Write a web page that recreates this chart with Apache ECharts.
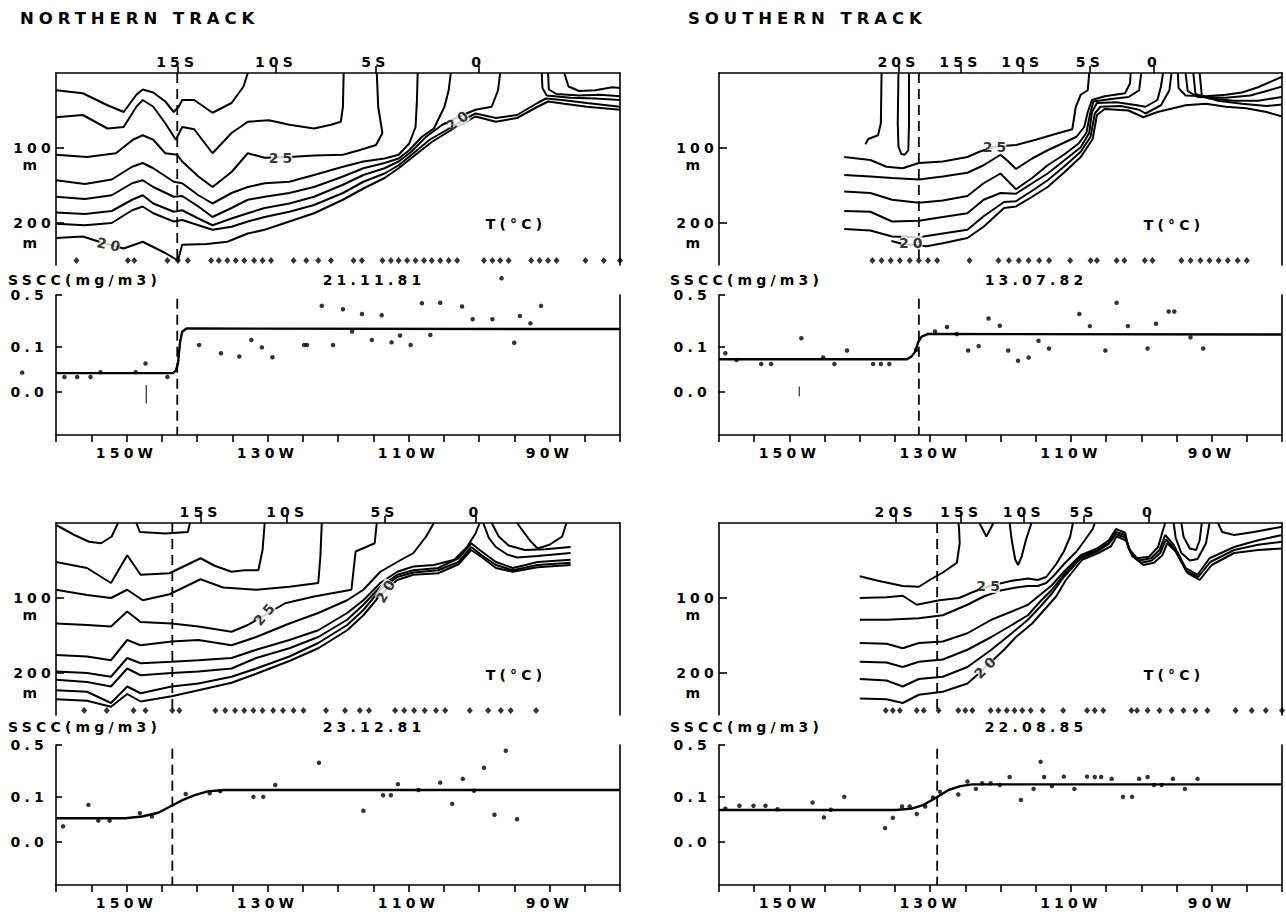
<!DOCTYPE html>
<html><head><meta charset="utf-8">
<script src="https://cdn.jsdelivr.net/npm/echarts@6/dist/echarts.min.js"></script>
<style>
html,body{margin:0;padding:0;background:#fff}
#chart{width:1286px;height:915px}
#chart svg text{letter-spacing:0.3em}
</style></head><body><div id="chart"></div>
<script>
// ---------- shared axis values ----------
const lonMin = 80, lonMax = 160, lonTickInterval = 5;
const lonLabelValues = [150, 130, 110, 90];
const depthMax = 256;
const depthTickValues = [100, 200];
const depthUnitDepths = [122, 226];
const stationDepth = 250;
const ssccTickValues = [0.5, 0.1, 0.0];
const ssccTickLabels = ['0.5', '0.1', '0.0'];
const ssccAxisMin = -0.0317, ssccAxisMax = 0.5;
const ssccDashTop = 0.45;
const trackTitles = ['NORTHERN TRACK', 'SOUTHERN TRACK'];

// ---------- panel 1 : northern track 21.11.81 ----------
const n1Date = '21.11.81';
const n1LatLon = [142.8, 128.8, 114.7, 100.1];
const n1LatName = ['15S', '10S', '5S', '0'];
const n1Front = 142.8;
const n1Isotherms = [
 [[160,23],[156.2,27],[152.7,43],[150.4,52],[148.6,29],[147.7,22],[146.2,26],[144.5,38],[143.3,52],[142.6,45],[142.1,36],[140.4,36],[137.8,53],[135.1,40],[133.4,18],[132.8,0]],
 [[160,59],[156.2,56],[152.7,74],[150.4,72],[148.6,45],[147.7,36],[146.2,45],[144.5,67],[143.0,89],[142.1,72],[140.4,75],[137.8,107],[135.1,80],[132.8,65],[129.8,63],[126.9,69],[123.4,74],[121,69],[119.6,65],[119.3,45],[119.2,0]],
 [[160,109],[155.6,112],[151.5,107],[149.1,89],[147.7,83],[146.2,89],[144.5,107],[142.8,109],[142.1,118],[139.8,138],[137.8,152],[135.1,132],[132.8,107],[130.4,113],[126.9,112],[123.4,110],[119.3,109],[117.0,103],[114.6,96],[113.7,80],[114.3,45],[114.5,0]],
 [[160,143],[155.9,148],[152.1,142],[149.2,125],[147.7,120],[146.2,127],[143.3,145],[142.1,147],[139.8,163],[137.8,174],[135.1,160],[132.8,152],[130.4,147],[126.9,145],[123.4,136],[119.3,125],[116.4,118],[113.4,114],[111.4,109],[109.9,94],[109.0,72],[108.8,36],[108.7,0]],
 [[160,165],[155.9,168],[152.1,163],[149.2,147],[147.7,143],[146.2,152],[143.3,165],[142.1,164],[139.8,178],[137.8,192],[135.1,180],[132.8,169],[130.4,165],[126.9,160],[123.4,152],[119.3,138],[116.4,127],[113.4,120],[111.4,114],[109.9,103],[108.1,85],[106.4,74],[104.9,45],[104.3,23],[104.0,0]],
 [[160,186],[155.9,188],[152.1,184],[149.2,169],[147.7,163],[146.2,174],[143.3,185],[142.1,183],[139.8,194],[137.8,203],[135.1,194],[132.8,187],[130.4,180],[126.9,174],[123.4,165],[119.3,149],[116.4,136],[113.4,127],[111.4,118],[109.6,105],[107.5,85],[105.2,69],[102.8,58],[100.5,49],[98.2,45],[97.3,23],[97.0,0]],
 [[160,201],[155.9,203],[152.1,200],[149.2,183],[147.7,178],[146.2,187],[143.3,198],[142.1,196],[139.8,203],[137.8,209],[135.1,205],[132.8,198],[130.4,192],[126.9,185],[123.4,176],[119.3,160],[116.4,145],[113.4,134],[111.4,123],[109.3,107],[107.0,89],[104.6,76],[102.3,63],[100.5,54],[97.6,60],[94.6,56],[91.7,40],[90.5,34],[88.2,36],[84.7,40],[80,45]],
 [[160,220],[156.2,218],[153.5,226],[150.4,234],[147.7,225],[144.5,240],[142.7,250],[142.1,229],[138.6,228],[135.7,225],[132.8,214],[130.4,209],[126.9,198],[123.4,187],[119.3,169],[116.4,154],[113.4,140],[111.4,127],[109.0,109],[106.7,92],[104.3,78],[102.0,66],[100.5,58],[97.6,65],[94.6,60],[91.7,45],[90.2,38],[87.9,41],[84.7,45],[80,49]],
 [[91.1,0],[91.0,20],[90.4,30],[87.0,33],[83.5,34],[80,36]],
 [[90.2,0],[90.1,22],[89.0,28],[85.8,30],[82.9,29],[80,31]],
 [[87.9,0],[87.3,18],[85.8,24],[83.5,23],[81.1,19],[80,20]]
];
const n1IsoLabels = [[128.0,113,'25',0],[152.4,229,'20',-12],[103.0,63,'20',35]];
const n1Stations = [157.1,149.8,148.9,144.2,142.7,141.3,138.0,136.9,135.7,134.5,133.3,131.9,130.7,129.5,126.3,124.5,122.8,121.0,117.8,116.6,113.7,112.5,111.4,110.2,109.0,107.8,106.7,105.5,104.3,103.1,99.3,98.1,97.0,95.8,92.6,91.4,90.2,89.0,84.9,82.3,80.0];
const n1Sscc = [[164.8,0.030],[158.8,0.022],[157.0,0.022],[155.1,0.022],[153.7,0.031],[148.7,0.031],[147.3,0.050],[144.2,0.022],[139.7,0.108],[136.6,0.079],[134.0,0.069],[132.3,0.129],[130.8,0.099],[129.3,0.067],[124.8,0.108],[124.4,0.108],[122.3,0.369],[120.7,0.108],[119.3,0.335],[118.0,0.171],[116.6,0.292],[115.2,0.129],[113.8,0.282],[112.4,0.119],[111.2,0.150],[109.7,0.108],[108.1,0.397],[106.9,0.153],[105.5,0.403],[102.4,0.362],[100.9,0.250],[98.1,0.250],[96.8,0.785],[95.0,0.117],[94.2,0.276],[92.7,0.221],[91.2,0.369]];
const n1Fit = [[160,0.029],[143.4,0.029],[143.0,0.034],[142.7,0.05],[142.4,0.12],[142.1,0.17],[141.5,0.188],[80,0.185]];
const n1Outlier = [[147.2,0.009],[147.2,-0.012]];

// ---------- panel 2 : southern track 13.07.82 ----------
const s1Date = '13.07.82';
const s1LatLon = [134.5, 125.7, 116.9, 107.3, 98.2];
const s1LatName = ['20S', '15S', '10S', '5S', '0'];
const s1Front = 131.6;
const s1Isotherms = [
 [[136.9,0],[137.0,67],[137.4,83],[138.8,88],[139.2,95]],
 [[134.5,0],[134.6,67],[134.5,98],[134.1,108],[133.6,109],[133.1,103],[133.0,67],[133.0,0]],
 [[142.2,112],[138.5,116],[136.2,125],[133.9,127],[131.6,120],[128.2,118],[124.7,112],[123.0,105],[120.7,98],[117.8,96],[115.0,89],[112.1,81],[109.8,75],[109.3,45],[108.6,29],[107.6,23],[107.4,0]],
 [[142.2,136],[138.5,138],[135.4,140],[131.6,142],[128.2,138],[124.7,133],[122.4,123],[120.0,109],[119.0,117],[117.8,128],[115.5,114],[113.3,103],[111.0,93],[109.2,85],[108.1,72],[107.6,52],[107.0,36],[105.2,31],[102.3,27],[101.6,14],[101.5,0]],
 [[142.2,158],[138.5,160],[135.4,169],[131.6,173],[128.2,170],[124.7,164],[122.4,147],[120.0,134],[117.8,155],[115.5,140],[113.3,123],[111.0,109],[108.9,94],[107.8,80],[107.3,56],[106.8,38],[104.6,35],[101.8,32],[100.3,23],[100.0,0]],
 [[142.2,184],[138.5,185],[135.4,198],[131.6,197],[128.2,192],[124.7,187],[122.4,169],[120.0,160],[117.8,161],[115.5,147],[113.3,134],[111.0,117],[108.6,99],[107.4,80],[107.0,52],[106.3,40],[103.5,39],[100.6,43],[99.4,45],[97.7,36],[97.2,18],[96.9,0]],
 [[142.2,208],[138.5,210],[135.4,218],[131.6,219],[128.2,214],[124.7,209],[122.4,191],[119.5,172],[117.8,171],[115.5,157],[113.3,143],[111.0,125],[108.6,105],[107.2,85],[106.6,54],[105.8,45],[102.9,44],[100.3,49],[99.4,54],[97.2,43],[96.0,23],[95.7,0]],
 [[135.5,224],[133.9,228],[130.5,231],[128.2,227],[124.7,220],[122.4,205],[119.5,180],[117.8,178],[115.5,165],[113.3,152],[111.0,133],[108.6,112],[106.9,88],[106.3,56],[105.2,48],[101.8,50],[99.7,59],[97.7,52],[93.7,43],[90.8,41],[88.0,45],[85.1,47],[82.2,52],[80,58]],
 [[94.8,0],[94.7,20],[93.7,30],[90.8,31],[88.0,29],[85.7,26],[83.4,19],[80,5]],
 [[93.7,0],[93.4,24],[92.0,32],[88.0,33],[84.5,30],[82.2,24],[80,18]],
 [[92.6,0],[92.3,28],[90.3,34],[86.8,37],[83.4,37],[80,32]],
 [[91.7,0],[91.4,30],[89.1,37],[85.7,41],[82.2,44],[80,42]]
];
const s1IsoLabels = [[120.7,99,'25',0],[132.6,226,'20',0]];
const s1Stations = [138.2,136.9,135.6,134.3,132.9,131.6,130.3,129.0,124.4,120.3,118.8,117.4,116.0,114.5,113.1,110.1,107.2,106.3,103.5,102.4,99.5,98.4,94.3,93.0,91.6,90.3,89.0,87.7,86.3,85.0];
const s1Sscc = [[159.1,0.079],[157.5,0.059],[154.0,0.049],[152.6,0.049],[148.3,0.137],[145.2,0.066],[143.6,0.049],[141.8,0.088],[138.1,0.049],[137.0,0.049],[135.8,0.049],[132.0,0.090],[129.3,0.171],[127.6,0.197],[126.2,0.158],[124.6,0.088],[123.1,0.104],[121.7,0.256],[120.1,0.205],[118.9,0.088],[117.5,0.057],[116.0,0.066],[114.6,0.126],[113.1,0.095],[108.8,0.292],[107.3,0.203],[105.1,0.088],[103.5,0.403],[101.9,0.203],[99.1,0.095],[97.9,0.218],[96.1,0.314],[95.3,0.314],[93.0,0.141],[91.2,0.095]];
const s1Fit = [[160,0.061],[133.3,0.061],[132.6,0.07],[132.1,0.085],[131.7,0.12],[131.2,0.145],[130.3,0.158],[80,0.155]];
const s1Outlier = [[148.6,0.007],[148.6,-0.005]];

// ---------- panel 3 : northern track 23.12.81 ----------
const n2Date = '23.12.81';
const n2LatLon = [139.5, 127.2, 113.4, 100.5];
const n2LatName = ['15S', '10S', '5S', '0'];
const n2Front = 143.5;
const n2Isotherms = [
 [[159.9,3],[157.4,16],[155.3,25],[153.6,27],[152.1,18],[151.2,0]],
 [[148.6,0],[148.1,12],[144.5,14],[141.3,12],[141.0,0]],
 [[160,52],[155.6,60],[152.2,80],[149.9,43],[148.0,69],[143.9,67],[139.5,47],[137.5,57],[135.1,65],[133.3,63],[131.3,63],[130.7,36],[130.4,0]],
 [[160,89],[155.6,96],[152.2,100],[149.9,89],[147.7,103],[143.9,95],[139.5,75],[136.3,86],[131.6,89],[126.9,85],[122.8,80],[122.5,45],[122.3,0]],
 [[160,134],[155.6,136],[152.2,138],[149.9,118],[148.0,132],[143.6,134],[139.8,138],[135.1,145],[132.8,136],[130.4,123],[127.5,107],[123.4,98],[118.1,89],[117.5,38],[114.8,27],[114.5,0]],
 [[160,176],[155.6,178],[152.2,183],[149.9,156],[148.0,163],[143.6,158],[139.8,156],[135.1,163],[131.6,152],[126.9,134],[122.8,120],[118.7,103],[116.4,89],[114.0,65],[111.6,52],[109.3,40],[107.5,18],[106.4,0]],
 [[160,198],[155.6,200],[152.2,205],[149.9,180],[148.0,187],[143.6,185],[139.8,183],[135.1,180],[131.6,169],[126.9,156],[122.8,143],[118.7,120],[116.4,103],[114.0,80],[111.6,65],[109.3,58],[106.4,56],[103.5,49],[101.7,32],[100.5,14],[99.9,0]],
 [[160,209],[155.6,212],[152.2,218],[149.9,194],[148.0,203],[143.6,200],[139.8,198],[135.1,194],[131.6,180],[126.9,167],[122.8,152],[118.7,129],[116.4,109],[114.0,85],[111.6,69],[109.3,63],[105.8,60],[102.9,47],[101.1,27],[99.9,36],[97.6,52],[95.2,60],[93.4,56],[91.7,52],[87.0,49]],
 [[160,223],[155.6,225],[152.2,240],[149.9,218],[148.0,227],[143.6,218],[139.8,214],[135.1,205],[131.6,194],[126.9,178],[122.8,160],[118.7,136],[116.4,116],[114.0,89],[111.6,72],[109.3,66],[105.8,63],[102.9,52],[101.1,32],[99.6,43],[97.6,56],[95.2,63],[91.7,56],[87.0,53]],
 [[160,235],[155.6,237],[152.2,245],[149.9,228],[148.0,238],[143.6,231],[139.8,223],[135.1,213],[131.6,201],[126.9,184],[122.8,167],[118.7,143],[116.4,123],[114.0,96],[111.6,76],[109.3,69],[105.8,67],[102.9,55],[101.1,36],[99.4,47],[97.6,60],[95.2,65],[91.7,59],[87.0,56]],
 [[99.4,0],[98.6,20],[97.6,32],[96.0,42],[94.6,46],[91.7,44],[87.0,40]],
 [[98.2,0],[97.2,18],[95.8,30],[93.5,36],[90.6,35],[87.0,32]],
 [[94.6,0],[92.8,23],[91.7,34],[90.0,29],[88.2,18],[87.6,0]]
];
const n2IsoLabels = [[130.4,121,'25',50],[113.2,90,'20',60]];
const n2Stations = [156.0,152.8,149.0,147.3,143.5,142.5,137.4,136.0,134.6,133.3,132.0,130.7,129.2,127.8,126.3,124.9,121.7,119.0,116.9,115.6,111.9,110.6,109.2,107.7,106.1,104.8,101.3,98.7,96.9,95.5,91.9];
const n2Sscc = [[159.0,0.023],[155.4,0.074],[154.0,0.034],[152.4,0.034],[148.1,0.051],[146.4,0.043],[141.6,0.112],[138.2,0.115],[136.7,0.124],[132.0,0.101],[130.6,0.101],[128.9,0.153],[122.7,0.303],[116.4,0.057],[113.6,0.107],[112.5,0.107],[111.5,0.157],[108.6,0.129],[105.5,0.165],[103.8,0.077],[102.3,0.186],[100.7,0.126],[99.3,0.261],[97.8,0.047],[96.2,0.427],[94.6,0.037]];
const n2Fit = [[160,0.039],[150.2,0.039],[147.8,0.043],[145.5,0.052],[143.8,0.069],[142.0,0.090],[140.3,0.108],[138.5,0.123],[136.2,0.129],[80,0.129]];
const n2Outlier = [];

// ---------- panel 4 : southern track 22.08.85 ----------
const s2Date = '22.08.85';
const s2LatLon = [134.9, 125.6, 116.7, 108.2, 98.9];
const s2LatName = ['20S', '15S', '10S', '5S', '0'];
const s2Front = 129.0;
const s2Isotherms = [
 [[140.0,71],[137.4,77],[133.9,84],[131.6,85],[129.9,75],[128.2,66],[126.2,53],[125.8,27],[125.9,5],[126.0,0]],
 [[123.0,0],[122.0,18],[121.0,0]],
 [[118.7,0],[118.4,23],[117.9,49],[117.5,56],[117.0,45],[116.4,23],[115.6,0]],
 [[140.0,100],[136.2,99],[133.9,97],[131.9,109],[128.7,103],[125.9,100],[123.9,92],[121.6,84],[118.4,77],[116.1,74],[114.7,76],[113.5,72],[112.1,55],[111.0,38],[110.1,18],[109.7,0]],
 [[140.0,129],[136.2,129],[131.6,127],[128.2,123],[124.7,109],[122.4,98],[120.0,90],[117.8,86],[116.1,84],[114.7,84],[113.5,80],[112.4,70],[111.0,55],[109.2,38],[108.1,24],[106.9,8],[106.6,0]],
 [[140.0,160],[136.2,161],[133.9,167],[131.6,160],[128.2,158],[124.7,147],[121.3,129],[118.4,118],[116.1,109],[114.4,96],[112.7,83],[111.0,65],[108.6,43],[106.3,34],[104.6,23],[103.6,8],[102.3,13],[101.8,34],[100.6,47],[98.9,45],[97.6,32],[96.9,9],[96.6,0]],
 [[140.0,185],[136.2,186],[133.9,192],[131.6,185],[128.2,182],[124.7,169],[121.3,152],[118.4,136],[116.1,123],[114.4,105],[112.7,89],[111.0,69],[108.6,45],[106.3,36],[104.6,26],[103.6,12],[102.3,16],[101.6,38],[100.3,50],[98.6,47],[97.4,36],[96.6,16],[95.4,29],[93.7,60],[92.0,69],[90.3,47],[86.8,32],[83.4,23],[80,16]],
 [[140.0,208],[136.2,210],[133.9,218],[131.6,208],[128.2,205],[124.7,192],[121.3,169],[118.4,147],[116.1,129],[114.4,112],[112.7,94],[111.0,72],[108.6,47],[106.3,38],[104.6,28],[103.6,15],[102.3,19],[101.4,41],[100.0,53],[98.5,50],[97.3,40],[96.5,22],[95.3,34],[93.6,64],[91.9,72],[90.2,52],[86.8,36],[83.4,29],[80,25]],
 [[140.0,234],[136.2,235],[133.9,240],[131.6,229],[128.2,225],[124.7,214],[123.0,200],[119.5,169],[117.8,152],[115.5,134],[113.8,116],[112.1,98],[110.7,76],[108.4,49],[106.1,40],[104.3,31],[103.5,18],[102.2,23],[101.3,44],[99.7,56],[98.2,53],[97.0,43],[96.3,27],[95.1,38],[93.4,67],[91.7,76],[90.0,56],[86.8,40],[83.4,36],[80,34]],
 [[95.4,0],[95.1,20],[94.3,40],[93.1,50],[92.0,48],[90.8,27],[90.3,0]],
 [[94.3,0],[94.0,18],[93.1,34],[92.2,36],[91.7,23],[91.4,0]],
 [[89.1,0],[88.5,12],[86.8,16],[84.0,12],[80,5]]
];
const s2IsoLabels = [[121.6,84,'25',0],[122.1,192,'20',45]];
const s2Stations = [136.3,135.3,134.3,131.9,130.9,128.8,126.0,125.0,124.0,121.4,120.3,119.1,118.0,116.9,115.7,114.0,111.1,107.7,106.6,105.4,101.4,100.6,99.1,97.4,95.7,94.0,92.3,90.6,86.6,84.3,82.3,80.0];
const s2Sscc = [[159.1,0.063],[157.1,0.071],[155.1,0.071],[153.4,0.071],[151.7,0.061],[146.7,0.081],[145.1,0.041],[144.1,0.060],[142.2,0.101],[136.4,0.020],[135.3,0.040],[134.0,0.069],[132.9,0.069],[131.9,0.049],[130.7,0.069],[129.6,0.099],[128.6,0.121],[126.0,0.110],[124.7,0.171],[123.5,0.134],[122.6,0.162],[121.4,0.162],[120.1,0.153],[118.7,0.197],[117.1,0.090],[115.3,0.134],[114.3,0.311],[113.8,0.197],[112.7,0.147],[111.0,0.200],[109.5,0.134],[107.7,0.200],[106.6,0.197],[105.7,0.197],[104.2,0.186],[102.6,0.101],[101.3,0.101],[100.3,0.186],[99.1,0.197],[98.2,0.153],[97.1,0.153],[95.5,0.186],[93.8,0.134],[92.0,0.186]];
const s2Fit = [[160,0.059],[134.9,0.059],[132.6,0.063],[130.9,0.074],[129.1,0.099],[127.4,0.129],[125.7,0.147],[124.0,0.156],[80,0.156]];
const s2Outlier = [];

// ---------- assembly ----------
const panels = [
 {date:n1Date, latLon:n1LatLon, latName:n1LatName, front:n1Front, iso:n1Isotherms, isoLabels:n1IsoLabels, stations:n1Stations, sscc:n1Sscc, fit:n1Fit, outlier:n1Outlier},
 {date:s1Date, latLon:s1LatLon, latName:s1LatName, front:s1Front, iso:s1Isotherms, isoLabels:s1IsoLabels, stations:s1Stations, sscc:s1Sscc, fit:s1Fit, outlier:s1Outlier},
 {date:n2Date, latLon:n2LatLon, latName:n2LatName, front:n2Front, iso:n2Isotherms, isoLabels:n2IsoLabels, stations:n2Stations, sscc:n2Sscc, fit:n2Fit, outlier:n2Outlier},
 {date:s2Date, latLon:s2LatLon, latName:s2LatName, front:s2Front, iso:s2Isotherms, isoLabels:s2IsoLabels, stations:s2Stations, sscc:s2Sscc, fit:s2Fit, outlier:s2Outlier}
];

// layout (pixels)
const layouts = [
 {left:56, cTop:73, sTop:295, width:564, textX:8, dateX:374, tX:516, textY:280, tY:224},
 {left:719, cTop:73, sTop:295, width:563, textX:670, dateX:1036, tX:1174, textY:280, tY:225},
 {left:56, cTop:523, sTop:745, width:564, textX:8, dateX:374, tX:516, textY:727, tY:675},
 {left:719, cTop:523, sTop:745, width:563, textX:670, dateX:1036, tX:1174, textY:727, tY:675}
];
const C_H = 192, S_H = 140;
const FONT = '"DejaVu Sans", sans-serif';
const K = 0.048;
const T = c => Math.log10(c + K);
const tS = {color:'#000', fontFamily:FONT, fontWeight:'bold', fontSize:14};
const axL = {color:'#000', width:1.6};

const grid = [], xAxis = [], yAxis = [], series = [], graphic = [];
panels.forEach((p, i) => {
 const L = layouts[i];
 // ---- contour section ----
 const gc = grid.length;
 grid.push({left:L.left, top:L.cTop, width:L.width, height:C_H, containLabel:false, outerBoundsMode:'none'});
 const xc = xAxis.length;
 xAxis.push({gridIndex:gc, type:'value', min:lonMin, max:lonMax, inverse:true, position:'top',
  axisLine:{show:true, onZero:false, lineStyle:axL},
  axisTick:{show:true, inside:false, length:7, customValues:p.latLon, lineStyle:axL},
  axisLabel:Object.assign({show:true, customValues:p.latLon, margin:4, formatter:(v)=>{const k=p.latLon.findIndex(a=>Math.abs(a-v)<1e-6); return k>=0?p.latName[k]:'';}}, tS),
  splitLine:{show:false}});
 const yc = yAxis.length;
 yAxis.push({gridIndex:gc, type:'value', min:0, max:depthMax, inverse:true, position:'left',
  axisLine:{show:true, onZero:false, lineStyle:axL},
  axisTick:{show:true, inside:true, length:8, customValues:depthTickValues, lineStyle:axL},
  axisLabel:Object.assign({show:true, customValues:depthTickValues, margin:1, padding:[0,0,6,0], formatter:(v)=>String(Math.round(v))}, tS),
  splitLine:{show:false}});
 yAxis.push({gridIndex:gc, type:'value', min:0, max:depthMax, inverse:true, position:'left',
  axisLine:{show:false}, axisTick:{show:false},
  axisLabel:Object.assign({show:true, customValues:depthUnitDepths, margin:24, align:'center', formatter:()=> 'm'}, tS),
  splitLine:{show:false}});
 yAxis.push({gridIndex:gc, type:'value', min:0, max:depthMax, inverse:true, position:'right',
  axisLine:{show:true, onZero:false, lineStyle:axL}, axisTick:{show:false}, axisLabel:{show:false}, splitLine:{show:false}});
 p.iso.forEach(line => series.push({type:'line', xAxisIndex:xc, yAxisIndex:yc, data:line, symbol:'none', showSymbol:false, silent:true, z:2,
   lineStyle:{color:'#000', width:2}}));
 series.push({type:'line', xAxisIndex:xc, yAxisIndex:yc, data:[[p.front,0],[p.front,depthMax]], symbol:'none', silent:true, z:2,
   lineStyle:{color:'#000', width:1.8, type:[10,6]}});
 series.push({type:'scatter', xAxisIndex:xc, yAxisIndex:yc, symbol:'diamond', symbolSize:[6,7], clip:false, silent:true,
   itemStyle:{color:'#000'}, data:p.stations.map(s=>[s, stationDepth])});
 series.push({type:'scatter', xAxisIndex:xc, yAxisIndex:yc, symbolSize:1, silent:true, z:6,
   itemStyle:{color:'rgba(0,0,0,0)'},
   label:Object.assign({show:true, position:'inside', formatter:'{b}', backgroundColor:'#fff', padding:[0,0,0,2]}, tS),
   data:p.isoLabels.map(l=>({name:l[2], value:[l[0],l[1]], label:{rotate:l[3]}}))});
 // ---- SSCC section ----
 const gs = grid.length;
 grid.push({left:L.left, top:L.sTop, width:L.width, height:S_H, containLabel:false, outerBoundsMode:'none'});
 const xs = xAxis.length;
 xAxis.push({gridIndex:gs, type:'value', min:lonMin, max:lonMax, interval:lonTickInterval, inverse:true, position:'bottom',
  axisLine:{show:true, onZero:false, lineStyle:axL},
  axisTick:{show:true, inside:false, length:7, lineStyle:axL},
  axisLabel:Object.assign({show:true, customValues:lonLabelValues, margin:11, formatter:(v)=>Math.round(v)+'W'}, tS),
  splitLine:{show:false}});
 const ys = yAxis.length;
 const tv = ssccTickValues.map(T);
 yAxis.push({gridIndex:gs, type:'value', min:T(ssccAxisMin), max:T(ssccAxisMax), position:'left',
  axisLine:{show:true, onZero:false, lineStyle:axL},
  axisTick:{show:true, inside:true, length:6, customValues:tv, lineStyle:axL},
  axisLabel:Object.assign({show:true, customValues:tv, margin:8, formatter:(v)=>{let b=0,d=1e9; tv.forEach((t,k)=>{if(Math.abs(t-v)<d){d=Math.abs(t-v);b=k;}}); return ssccTickLabels[b];}}, tS),
  splitLine:{show:false}});
 yAxis.push({gridIndex:gs, type:'value', min:T(ssccAxisMin), max:T(ssccAxisMax), position:'right',
  axisLine:{show:true, onZero:false, lineStyle:axL}, axisTick:{show:false}, axisLabel:{show:false}, splitLine:{show:false}});
 series.push({type:'line', xAxisIndex:xs, yAxisIndex:ys, data:p.fit.map(q=>[q[0], T(q[1])]), symbol:'none', silent:true,
   lineStyle:{color:'#000', width:2.4}});
 series.push({type:'line', xAxisIndex:xs, yAxisIndex:ys, data:[[p.front,T(ssccDashTop)],[p.front,T(ssccAxisMin)]], symbol:'none', silent:true,
   lineStyle:{color:'#000', width:1.8, type:[10,6]}});
 series.push({type:'scatter', xAxisIndex:xs, yAxisIndex:ys, symbol:'circle', symbolSize:4.5, clip:false, silent:true,
   itemStyle:{color:'#000'}, data:p.sscc.map(q=>[q[0], T(q[1])])});
 if (p.outlier.length) series.push({type:'line', xAxisIndex:xs, yAxisIndex:ys, data:p.outlier.map(q=>[q[0], T(q[1])]), symbol:'none', silent:true,
   lineStyle:{color:'#000', width:1}});
 // ---- texts ----
 graphic.push({type:'text', x:L.textX, y:L.textY, style:{text:'SSCC(mg/m3)', fill:'#000', font:'bold 14px ' + FONT, align:'left', verticalAlign:'middle'}});
 graphic.push({type:'text', x:L.dateX, y:L.textY, style:{text:p.date, fill:'#000', font:'bold 14px ' + FONT, align:'center', verticalAlign:'middle'}});
 graphic.push({type:'text', x:L.tX, y:L.tY, style:{text:'T(°C)', fill:'#000', font:'bold 14px ' + FONT, align:'center', verticalAlign:'middle'}});
});
graphic.push({type:'text', x:20, y:18, style:{text:trackTitles[0], fill:'#000', font:'bold 16.5px ' + FONT, align:'left', verticalAlign:'middle'}});
graphic.push({type:'text', x:688, y:18, style:{text:trackTitles[1], fill:'#000', font:'bold 16.5px ' + FONT, align:'left', verticalAlign:'middle'}});

const chart = echarts.init(document.getElementById('chart'), null, {renderer:'svg'});
chart.setOption({backgroundColor:'#fff', animation:false, tooltip:{show:false}, grid, xAxis, yAxis, series, graphic});
</script>
</body></html>
